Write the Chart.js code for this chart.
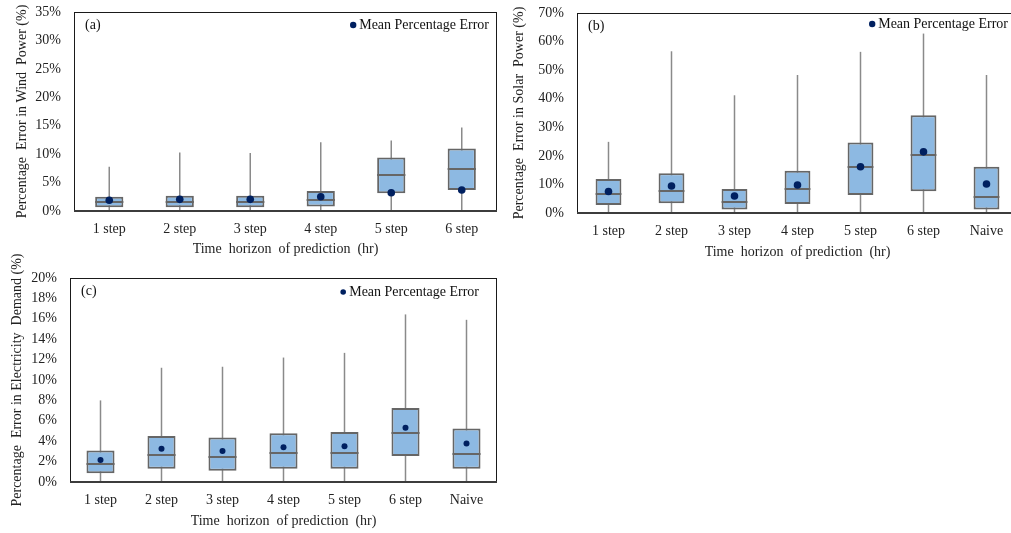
<!DOCTYPE html>
<html>
<head>
<meta charset="utf-8">
<script src="https://cdn.jsdelivr.net/npm/chart.js@4.4.1/dist/chart.umd.min.js"></script>
<style>
  html, body { margin: 0; padding: 0; background: #fff; }
  body { width: 1011px; height: 533px; position: relative; overflow: hidden; }
  .panel { position: absolute; }
  .panel canvas { display: block; }
</style>
</head>
<body>
<div class="panel" style="left:0;top:0;width:505px;height:265px"><canvas id="wind-chart" width="505" height="265"></canvas></div>
<div class="panel" style="left:505px;top:0;width:520px;height:265px"><canvas id="solar-chart" width="520" height="265"></canvas></div>
<div class="panel" style="left:0;top:235px;width:505px;height:298px"><canvas id="demand-chart" width="505" height="298"></canvas></div>
<script>
// Categories
const stepLabels = ['1 step', '2 step', '3 step', '4 step', '5 step', '6 step'];
const horizonLabels = ['1 step', '2 step', '3 step', '4 step', '5 step', '6 step', 'Naive'];

// (a) wind power error, %
const windMin = [0, 0, 0, 0, 0, 0];
const windQ1 = [0.65, 0.65, 0.65, 0.8, 3.1, 3.7];
const windMedian = [1.5, 1.5, 1.5, 1.95, 6.3, 7.3];
const windQ3 = [2.5, 2.7, 2.7, 3.5, 9.4, 11.0];
const windMax = [7.8, 10.3, 10.2, 12.1, 12.4, 14.7];
const windMean = [1.9, 2.05, 2.05, 2.5, 3.2, 3.7];

// (b) solar power error, %
const solarMin = [0, 0, 0, 0, 0, 0, 0];
const solarQ1 = [2.8, 3.4, 1.2, 3.15, 6.3, 7.6, 1.2];
const solarMedian = [6.65, 7.8, 3.85, 8.5, 16.0, 20.2, 5.6];
const solarQ3 = [11.9, 13.9, 8.4, 14.8, 24.7, 34.2, 16.2];
const solarMax = [24.9, 56.6, 41.2, 48.3, 56.4, 62.8, 48.3];
const solarMean = [7.5, 9.45, 5.95, 9.8, 16.2, 21.4, 10.15];

// (c) electricity demand error, %
const demandMin = [0, 0, 0, 0, 0, 0, 0];
const demandQ1 = [0.85, 1.31, 1.11, 1.31, 1.31, 2.56, 1.31];
const demandMedian = [1.77, 2.66, 2.49, 2.82, 2.82, 4.82, 2.75];
const demandQ3 = [3.1, 4.52, 4.36, 4.79, 4.89, 7.25, 5.25];
const demandMax = [8.0, 11.2, 11.3, 12.2, 12.66, 16.43, 15.9];
const demandMean = [2.16, 3.25, 3.05, 3.41, 3.51, 5.31, 3.77];

const FONT = '"Liberation Serif", "Times New Roman", serif';
const BOX_FILL = '#8db9e2';
const BOX_EDGE = '#666666';
const WHISKER = '#8a8a8a';
const MEAN_DOT = '#002060';

// median line across each box, drawn right after the boxes (before the mean dots)
const medianLines = {
    id: 'medianLines',
    afterDatasetDraw(chart, args, opts) {
        if (args.index !== 1) return;
        const { ctx } = chart;
        const yScale = chart.scales.y;
        const boxes = chart.getDatasetMeta(1).data;
        ctx.save();
        ctx.strokeStyle = BOX_EDGE;
        ctx.lineWidth = 2;
        boxes.forEach((bar, i) => {
            const y = Math.round(yScale.getPixelForValue(opts.median[i]));
            ctx.beginPath();
            ctx.moveTo(bar.x - bar.width / 2, y);
            ctx.lineTo(bar.x + bar.width / 2, y);
            ctx.stroke();
        });
        ctx.restore();
    }
};

// frame round the plot area, the "(a)" tag and the in-plot legend
const panelFrame = {
    id: 'panelFrame',
    afterDraw(chart, args, opts) {
        const { ctx, chartArea: { left, top, right, bottom } } = chart;
        ctx.save();
        ctx.strokeStyle = '#1a1a1a';
        ctx.lineWidth = 1;
        ctx.strokeRect(left + 0.5, top + 0.5, right - left - 1, bottom - top);
        ctx.strokeStyle = '#3c3c3c';
        ctx.lineWidth = 2;
        ctx.beginPath();
        ctx.moveTo(left, bottom);
        ctx.lineTo(right, bottom);
        ctx.stroke();

        ctx.fillStyle = '#111';
        ctx.font = '14px ' + FONT;
        ctx.textBaseline = 'middle';
        ctx.textAlign = 'left';
        ctx.fillText(opts.tag, left + 11, top + 13);

        // legend: mean marker
        const meanSet = chart.data.datasets[2];
        const textRight = right - opts.legendRight;
        const textWidth = ctx.measureText(meanSet.label).width;
        const ly = top + opts.legendDy;
        ctx.textAlign = 'right';
        ctx.fillText(meanSet.label, textRight, ly);
        ctx.fillStyle = meanSet.pointBackgroundColor;
        ctx.beginPath();
        ctx.arc(textRight - textWidth - 6, ly, opts.legendDot, 0, Math.PI * 2);
        ctx.fill();
        ctx.restore();
    }
};

function makePanel(id, p) {
    const pairs = (a, b) => a.map((v, i) => [v, b[i]]);
    const ctx = document.getElementById(id).getContext('2d');
    return new Chart(ctx, {
        type: 'bar',
        data: {
            labels: p.labels,
            datasets: [
                {
                    label: 'whisker',
                    data: pairs(p.min, p.max),
                    backgroundColor: WHISKER,
                    barThickness: 1.5,
                    inflateAmount: 0,
                    grouped: false,
                    order: 3
                },
                {
                    label: 'box',
                    data: pairs(p.q1, p.q3),
                    backgroundColor: BOX_FILL,
                    borderColor: BOX_EDGE,
                    borderWidth: 2,
                    borderSkipped: false,
                    inflateAmount: 0,
                    barPercentage: p.boxWidth,
                    categoryPercentage: 1,
                    grouped: false,
                    order: 2
                },
                {
                    type: 'line',
                    label: 'Mean Percentage Error',
                    data: p.mean,
                    showLine: false,
                    pointStyle: 'circle',
                    pointRadius: p.dot,
                    pointBackgroundColor: MEAN_DOT,
                    pointBorderColor: MEAN_DOT,
                    pointBorderWidth: 0,
                    backgroundColor: MEAN_DOT,
                    borderColor: MEAN_DOT,
                    order: 0
                }
            ]
        },
        options: {
            responsive: false,
            animation: false,
            events: [],
            layout: { padding: { top: p.padTop, right: p.padRight, left: 0, bottom: 0 } },
            plugins: {
                tooltip: { enabled: false },
                legend: { display: false },
                medianLines: { median: p.median },
                panelFrame: { tag: p.tag, legendRight: p.legendRight, legendDy: p.legendDy, legendDot: p.legendDot }
            },
            scales: {
                x: {
                    grid: { display: false, drawTicks: false },
                    border: { display: false },
                    ticks: { color: '#222', padding: 10, font: { family: FONT, size: 14 } },
                    title: {
                        display: true,
                        text: 'Time  horizon  of prediction  (hr)',
                        color: '#222',
                        padding: { top: 0, bottom: p.xTitleBottom },
                        font: { family: FONT, size: 14 }
                    },
                    afterFit: (scale) => { scale.height = p.xHeight; }
                },
                y: {
                    min: 0,
                    max: p.yMax,
                    grid: { display: false, drawTicks: false },
                    border: { display: false },
                    ticks: {
                        stepSize: p.yStep,
                        color: '#222',
                        padding: 13,
                        font: { family: FONT, size: 14 },
                        callback: (v) => v + '%'
                    },
                    title: {
                        display: true,
                        text: p.yTitle,
                        color: '#222',
                        padding: { top: p.yTitleTop, bottom: 0 },
                        font: { family: FONT, size: 14 }
                    },
                    afterFit: (scale) => {
                        scale.width = p.yWidth;
                        // let the top/bottom tick labels hang outside the plot, as in the original
                        scale.paddingTop = 0;
                        scale.paddingBottom = 0;
                    }
                }
            }
        },
        plugins: [medianLines, panelFrame]
    });
}

makePanel('wind-chart', {
    labels: stepLabels, min: windMin, q1: windQ1, median: windMedian, q3: windQ3, max: windMax, mean: windMean,
    tag: '(a)', yMax: 35, yStep: 5, yTitle: 'Percentage  Error in Wind  Power (%)',
    boxWidth: 0.4, dot: 3.8, padTop: 12, padRight: 8, xHeight: 54, yWidth: 74, xTitleBottom: 7.6, yTitleTop: 13.6,
    legendRight: 8, legendDy: 13, legendDot: 3.2
});

makePanel('solar-chart', {
    labels: horizonLabels, min: solarMin, q1: solarQ1, median: solarMedian, q3: solarQ3, max: solarMax, mean: solarMean,
    tag: '(b)', yMax: 70, yStep: 10, yTitle: 'Percentage  Error in Solar  Power (%)',
    boxWidth: 0.41, dot: 3.8, padTop: 13, padRight: 7, xHeight: 52, yWidth: 72, xTitleBottom: 4.6, yTitleTop: 5.6,
    legendRight: 10, legendDy: 11, legendDot: 3.2
});

makePanel('demand-chart', {
    labels: horizonLabels, min: demandMin, q1: demandQ1, median: demandMedian, q3: demandQ3, max: demandMax, mean: demandMean,
    tag: '(c)', yMax: 20, yStep: 2, yTitle: 'Percentage  Error in Electricity  Demand (%)',
    boxWidth: 0.46, dot: 3, padTop: 43, padRight: 8, xHeight: 51, yWidth: 70, xTitleBottom: 2.9, yTitleTop: 8.6,
    legendRight: 18, legendDy: 14, legendDot: 2.8
});
</script>
</body>
</html>
